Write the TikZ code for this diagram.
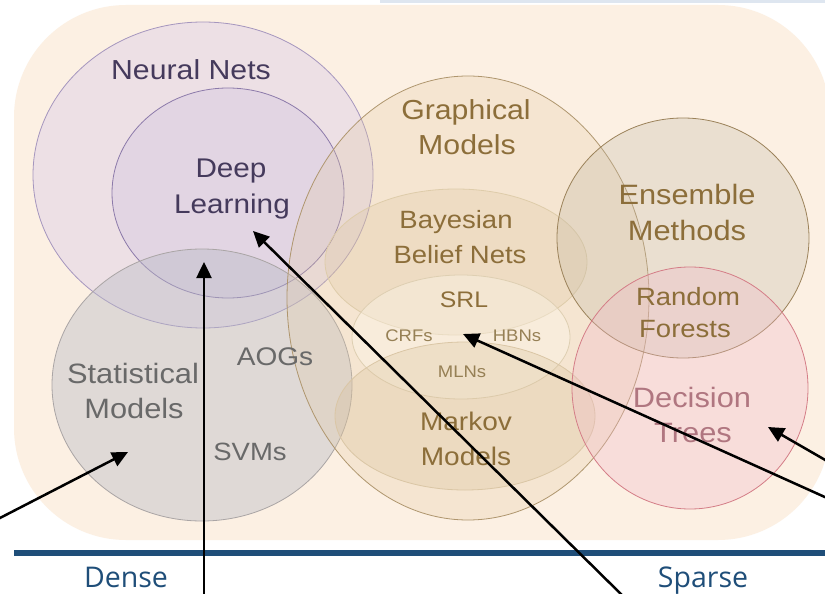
\documentclass[tikz,border=0pt]{standalone}
\usepackage{fontspec}
\setmainfont{Liberation Sans}[FakeStretch=1.1]
\newfontfamily\dsfont{Open Sans}
\usetikzlibrary{shapes.geometric,arrows.meta}
\definecolor{bgpeach}{RGB}{252,240,227}
\definecolor{topline}{RGB}{222,230,240}
\definecolor{nnfill}{RGB}{205,190,235}
\definecolor{nnline}{RGB}{165,150,190}
\definecolor{dlfill}{RGB}{190,175,220}
\definecolor{dlline}{RGB}{140,122,170}
\definecolor{stfill}{RGB}{185,186,198}
\definecolor{stline}{RGB}{170,165,165}
\definecolor{gmfill}{RGB}{225,200,160}
\definecolor{gmline}{RGB}{175,150,110}
\definecolor{bbfill}{RGB}{220,195,155}
\definecolor{bbline}{RGB}{222,204,170}
\definecolor{srfill}{RGB}{255,250,240}
\definecolor{srline}{RGB}{222,207,178}
\definecolor{mkfill}{RGB}{215,190,150}
\definecolor{mkline}{RGB}{218,198,165}
\definecolor{enfill}{RGB}{195,185,165}
\definecolor{enline}{RGB}{155,130,90}
\definecolor{dtfill}{RGB}{240,185,200}
\definecolor{dtline}{RGB}{212,125,135}
\definecolor{txpurple}{RGB}{69,58,92}
\definecolor{txbrown}{RGB}{140,110,58}
\definecolor{txbrownlt}{RGB}{150,128,85}
\definecolor{txgray}{RGB}{105,105,105}
\definecolor{txpink}{RGB}{176,118,128}
\definecolor{axisblue}{RGB}{31,78,121}
\begin{document}
\begin{tikzpicture}[x=1pt,y=-1pt,
  circ/.style={ellipse, draw, inner sep=0pt, line width=0.8pt},
  lbl/.style={anchor=base, inner sep=0pt, font=\fontsize{#1}{#1}\selectfont},
  arr/.style={line width=2.5pt, -{Triangle[length=16pt,width=15pt]}},
  axislabel/.style={anchor=base, inner sep=0pt, text=axisblue, font=\dsfont\fontsize{28.5}{28.5}\selectfont}]
\useasboundingbox (0,0) rectangle (825,594);
\clip (0,0) rectangle (825,594);
\fill[white] (0,0) rectangle (825,594);
\fill[topline] (380,0) rectangle (825,3.5);
\fill[bgpeach, rounded corners=112pt] (14,5) rectangle (830,540);

% circles
\node[circ, draw=nnline, fill=nnfill, fill opacity=0.30, minimum width=340pt, minimum height=306pt] (nn) at (203,175) {};
\node[circ, draw=dlline, fill=dlfill, fill opacity=0.22, minimum width=232pt, minimum height=210pt] (dl) at (228,193) {};
\node[circ, draw=stline, fill=stfill, fill opacity=0.42, minimum width=300pt, minimum height=272pt] (st) at (202,385) {};
\node[circ, draw=gmline, fill=gmfill, fill opacity=0.26, minimum width=362pt, minimum height=444pt] (gm) at (468,298) {};
\node[circ, draw=bbline, fill=bbfill, fill opacity=0.25, minimum width=262pt, minimum height=146pt] (bb) at (456,262) {};
\node[circ, draw=srline, fill=srfill, fill opacity=0.35, minimum width=218pt, minimum height=124pt] (sr) at (461,337) {};
\node[circ, draw=mkline, fill=mkfill, fill opacity=0.28, minimum width=260pt, minimum height=148pt] (mk) at (465,416) {};
\node[circ, draw=enline, fill=enfill, fill opacity=0.30, minimum width=252pt, minimum height=240pt] (en) at (683,238) {};
\node[circ, draw=dtline, fill=dtfill, fill opacity=0.33, minimum width=236pt, minimum height=242pt] (dt) at (690,388) {};

% labels
\node[lbl=27.5, text=txpurple] (nn1) at (191,80) {Neural Nets};
\node[lbl=27, text=txpurple] (dl1) at (231,177) {Deep};
\node[lbl=27, text=txpurple] (dl2) at (232,213) {Learning};
\node[lbl=27.5, text=txbrown] (gm1) at (466,119) {Graphical};
\node[lbl=27.5, text=txbrown] (gm2) at (467,154) {Models};
\node[lbl=25, text=txbrown] (bb1) at (456,228) {Bayesian};
\node[lbl=25, text=txbrown] (bb2) at (460,263) {Belief Nets};
\node[lbl=28, text=txbrown] (en1) at (687,204) {Ensemble};
\node[lbl=28, text=txbrown] (en2) at (687,240) {Methods};
\node[lbl=22.5, text=txbrown] (sr1) at (464,307) {SRL};
\node[lbl=16.8, text=txbrownlt] (sr2) at (409,341) {CRFs};
\node[lbl=16.8, text=txbrownlt] (sr3) at (517,341) {HBNs};
\node[lbl=16.8, text=txbrownlt] (sr4) at (462,377) {MLNs};
\node[lbl=25.5, text=txbrown] (mk1) at (466,430) {Markov};
\node[lbl=25.5, text=txbrown] (mk2) at (466,465) {Models};
\node[lbl=25, text=txbrown] (rf1) at (688,305) {Random};
\node[lbl=25, text=txbrown] (rf2) at (685,337) {Forests};
\node[lbl=28, text=txpink] (dt1) at (692,407) {Decision};
\node[lbl=28, text=txpink] (dt2) at (693,442) {Trees};
\node[lbl=28, text=txgray] (st1) at (133,383) {Statistical};
\node[lbl=28, text=txgray] (st2) at (134,418) {Models};
\node[lbl=25.5, text=txgray] (ao) at (275,365) {AOGs};
\node[lbl=25, text=txgray] (sv) at (250,460) {SVMs};

% axis
\coordinate (axl) at (14,553);
\coordinate (axr) at (825,553);
\draw[axisblue, line width=5.5pt] (axl) -- (axr);
\node[axislabel] (dense) at (126,587) {Dense};
\node[axislabel] (sparse) at (703,587) {Sparse};

% arrows
\coordinate (a1s) at (-2,519);
\coordinate (a1t) at (128,452);
\coordinate (a2s) at (204,600);
\coordinate (a2t) at (204,262);
\coordinate (a3s) at (627,600);
\coordinate (a3t) at (253,231);
\coordinate (a4s) at (827,498);
\coordinate (a4t) at (463,334);
\coordinate (a5s) at (827,461);
\coordinate (a5t) at (768,427);
\draw[arr] (a1s) -- (a1t);
\draw[arr] (a2s) -- (a2t);
\draw[arr] (a3s) -- (a3t);
\draw[arr] (a4s) -- (a4t);
\draw[arr] (a5s) -- (a5t);
\end{tikzpicture}
\end{document}
